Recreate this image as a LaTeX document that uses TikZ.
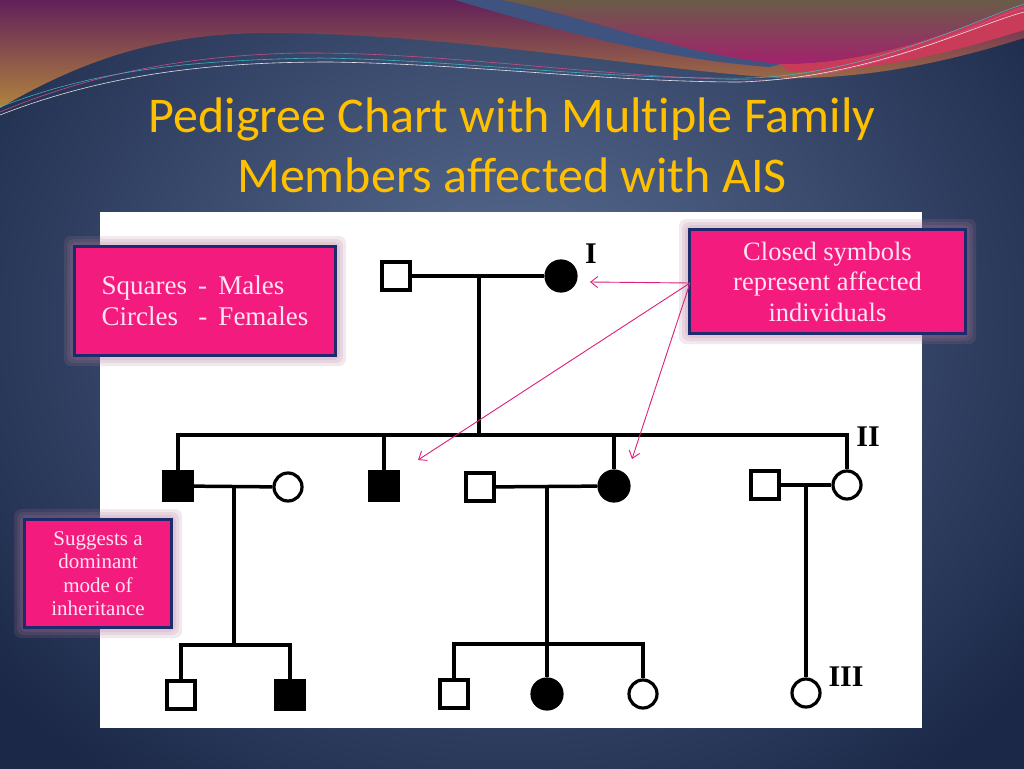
\documentclass[tikz,border=0pt]{standalone}
\usepackage{fontspec}
\setmainfont{Liberation Serif}
\newfontfamily\titlefont[Ligatures={NoCommon}]{Carlito}
\usetikzlibrary{arrows.meta}
\definecolor{boxpink}{HTML}{F31B7E}
\definecolor{boxblue}{HTML}{1D2A6C}
\definecolor{boxtext}{HTML}{FFE4F1}
\definecolor{arrowc}{HTML}{DD1F78}
\definecolor{titlec}{HTML}{FFC000}
\definecolor{navyin}{HTML}{5B6F94}
\definecolor{navyout}{HTML}{1B2848}
\definecolor{warmtop}{HTML}{62205A}
\definecolor{warmbot}{HTML}{B0843E}
\definecolor{rtop}{HTML}{6A5C48}
\definecolor{rbot}{HTML}{A5206E}
\definecolor{coral}{HTML}{C83C5A}
\definecolor{stripe}{HTML}{3E5380}
\definecolor{pinkline}{HTML}{E0508A}
\definecolor{cyanline}{HTML}{40C0D0}
\definecolor{glowc}{HTML}{B07896}
\tikzset{
  pedline/.style={line width=3.5pt, black},
  male/.style={rectangle, draw=black, line width=3.2pt, minimum size=28pt, inner sep=0pt, fill=white},
  female/.style={circle, draw=black, line width=3.2pt, minimum size=28pt, inner sep=0pt, fill=white},
  affected/.style={fill=black},
  gen/.style={font=\bfseries\fontsize{30}{30}\selectfont, inner sep=0pt, text=black},
  infobox/.style={rectangle, draw=boxblue, line width=3pt, fill=boxpink, text=boxtext, align=center, inner sep=0pt},
  glow/.style={fill=glowc, opacity=0.16, rounded corners=7pt},
  callout/.style={draw=arrowc, line width=0.9pt, -{Straight Barb[length=7pt,width=11pt]}},
  titletext/.style={font=\titlefont\fontsize{50}{60}\selectfont, text=titlec, inner sep=0pt, anchor=base},
  thin/.style={line width=0.6pt, opacity=0.85}
}
\begin{document}
\begin{tikzpicture}[x=1pt,y=-1pt]
\useasboundingbox (0,0) rectangle (1024,768);
\begin{scope}
\clip (0,0) rectangle (1024,768);
% background
\shade[inner color=navyin, outer color=navyout] (-150,-250) rectangle (1174,900);
% warm region above the navy
\shade[top color=warmtop, bottom color=warmbot] (0,0) -- (0,108) .. controls (90,55) and (170,33) .. (270,33)
  .. controls (450,33) and (650,70) .. (780,78) .. controls (880,80) and (970,55) .. (1024,38) -- (1024,0) -- cycle;
% upper right region
\shade[top color=rtop, bottom color=rbot] (500,0) .. controls (580,15) and (680,55) .. (780,64)
  .. controls (880,66) and (980,20) .. (1024,5) -- (1024,0) -- cycle;
% coral band
\fill[coral] (780,64) .. controls (880,66) and (980,20) .. (1024,5) -- (1024,30)
  .. controls (960,50) and (880,72) .. (790,72) -- cycle;
% blue stripe
\fill[stripe] (455,0) .. controls (540,25) and (650,58) .. (770,67) -- (780,64)
  .. controls (680,55) and (580,15) .. (500,0) -- cycle;
% thin lines
\draw[thin, pinkline] (0,112) .. controls (100,70) and (200,55) .. (300,53) .. controls (450,52) and (600,78) .. (760,80) .. controls (880,78) and (980,20) .. (1024,8);
\draw[thin, cyanline] (0,107) .. controls (100,68) and (200,60) .. (320,58) .. controls (460,60) and (600,80) .. (750,78) .. controls (870,74) and (980,18) .. (1024,4);
\draw[thin, white] (0,115) .. controls (110,72) and (220,62) .. (330,62) .. controls (470,64) and (610,82) .. (740,82) .. controls (870,78) and (975,25) .. (1024,12);
\end{scope}
% title
\node[titletext] (title1) at (512,132) {Pedigree Chart with Multiple Family};
\node[titletext] (title2) at (512,192) {Members affected with AIS};
% white panel
\fill[white] (100,212) rectangle (922,728);
% generation I
\node[male] (m1) at (396,276) {};
\node[female, affected, minimum size=30pt] (f1) at (561,276) {};
\draw[pedline] (m1) -- (f1);
\coordinate (d1) at (479,276);
\coordinate (s2l) at (178,435);
\coordinate (s2r) at (847,435);
% generation II
\node[male, affected] (a) at (178,486) {};
\node[female] (b) at (288,487) {};
\node[male, affected] (c) at (384,486) {};
\node[male] (d) at (480,487) {};
\node[female, affected, minimum size=30pt] (e) at (614,486) {};
\node[male] (g) at (765,485) {};
\node[female] (h) at (847,485) {};
\draw[pedline] (d1) -- (d1 |- s2l);
\draw[pedline] (a.north) -- (s2l) -- (s2r) -- (h.north);
\draw[pedline] (c.north) -- (c.north |- s2l);
\draw[pedline] (e.north) -- (e.north |- s2l);
\draw[pedline] (a) -- (b);
\draw[pedline] (d) -- (e);
\draw[pedline] (g) -- (h);
% generation III
\node[male] (j) at (181,695) {};
\node[male, affected] (k) at (290,695) {};
\node[male] (l) at (454,694) {};
\node[female, affected, minimum size=30pt] (mm) at (547,694) {};
\node[female] (n) at (643,694) {};
\node[female] (o) at (806,693) {};
\coordinate (d2) at (234,487);
\coordinate (s3a) at (234,645);
\coordinate (d3) at (547,487);
\coordinate (s3b) at (547,644);
\coordinate (d4) at (806,485);
\draw[pedline] (d2) -- (s3a);
\draw[pedline] (j.north) |- (s3a -| k.north) -- (k.north);
\draw[pedline] (d3) -- (mm.north);
\draw[pedline] (l.north) |- (s3b -| n.north) -- (n.north);
\draw[pedline] (d4) -- (o.north);
% generation labels
\node[gen] (gI) at (591,254) {I};
\node[gen] (gII) at (868,437) {II};
\node[gen] (gIII) at (846,677) {III};
% glows
\foreach \g in {3,6,9}{
  \fill[glow] (73-\g,245-\g) rectangle (337+\g,357+\g);
  \fill[glow] (688-\g,228-\g) rectangle (967+\g,335+\g);
  \fill[glow] (23-\g,518-\g) rectangle (173+\g,629+\g);
}
% info boxes
\node[infobox, minimum width=261pt, minimum height=109pt, font=\fontsize{27}{31}\selectfont, align=left]
  (box1) at (205,301) {Squares \,-\, Males\\Circles \ \ -\, Females};
\node[infobox, minimum width=276pt, minimum height=104pt, font=\fontsize{26.5}{30.5}\selectfont]
  (box2) at (827.5,281.5) {Closed symbols\\represent affected\\individuals};
\node[infobox, minimum width=147pt, minimum height=108pt, font=\fontsize{21}{23.5}\selectfont]
  (box3) at (98,573.5) {Suggests a\\dominant\\mode of\\inheritance};
% callout arrows
\coordinate (src) at (690,283);
\coordinate (t1) at (590,282);
\coordinate (t2) at (418,460);
\coordinate (t3) at (632,459);
\draw[callout] (src) -- (t1);
\draw[callout] (src) -- (t2);
\draw[callout] (src) -- (t3);
\end{tikzpicture}
\end{document}
